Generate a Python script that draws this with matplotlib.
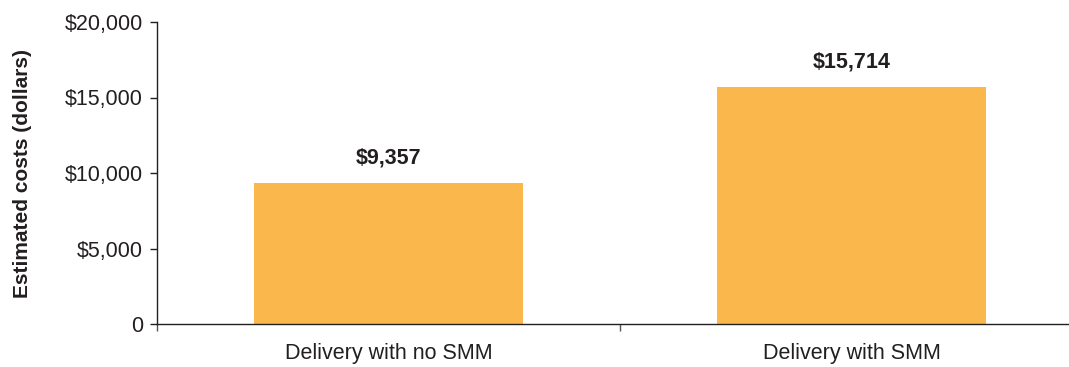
import matplotlib.pyplot as plt
import matplotlib.ticker as mticker

# estimated costs per delivery
categories = ['Delivery with no SMM', 'Delivery with SMM']
costs = [9357, 15714]
yticks = [0, 5000, 10000, 15000, 20000]

plt.rcParams['font.family'] = ['Liberation Sans', 'DejaVu Sans']
TXT = '#231f20'
BAR = '#fab84c'

fig = plt.figure(figsize=(10.69, 3.67), dpi=100)
ax = fig.add_axes([157/1069, 1-324/367, 926/1069, 302/367])

x = list(range(len(categories)))
bars = ax.bar(x, costs, width=0.58, color=BAR, zorder=2)
for xi, v in zip(x, costs):
    ax.annotate('${:,}'.format(v), (xi, v), xytext=(0, 10), textcoords='offset points',
                ha='center', va='bottom', fontsize=15.5, fontweight='bold', color=TXT)

ax.set_xlim(-0.5, 1.5)
ax.set_ylim(0, 20000)
ax.set_yticks(yticks)
ax.yaxis.set_major_formatter(mticker.FuncFormatter(lambda v, p: '0' if v == 0 else '${:,.0f}'.format(v)))
ax.set_xticks(x)
ax.set_xticklabels(categories)
ax.set_xticks([-0.5, 0.5, 1.5], minor=True)
ax.tick_params(axis='x', which='major', length=0, pad=14, labelsize=15.5, labelcolor=TXT)
ax.tick_params(axis='x', which='minor', length=5, width=1, color='#555555')
ax.tick_params(axis='y', length=5, width=1, color=TXT, pad=5, labelsize=15.5, labelcolor=TXT)

for s in ['top', 'right']:
    ax.spines[s].set_visible(False)
for s in ['left', 'bottom']:
    ax.spines[s].set_color(TXT)
    ax.spines[s].set_linewidth(1)

ax.set_ylabel('Estimated costs (dollars)', fontsize=15, fontweight='bold', color=TXT, labelpad=24)

fig.savefig('out.png', dpi=100)
